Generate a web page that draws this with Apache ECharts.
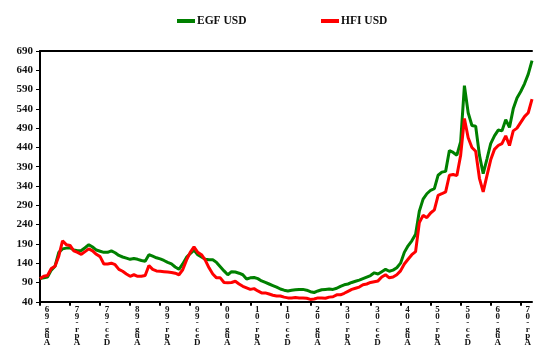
<!DOCTYPE html>
<html>
<head>
<meta charset="utf-8">
<script src="https://cdn.jsdelivr.net/npm/echarts@6/dist/echarts.min.js"></script>
<style>
  html, body { margin: 0; padding: 0; background: #fff; }
  #chart { width: 534px; height: 347px; }
</style>
</head>
<body>
<div id="chart"></div>
<script>
// Monthly categories, Aug-96 through Jul-07
const monthNames = ['Jan','Feb','Mar','Apr','May','Jun','Jul','Aug','Sep','Oct','Nov','Dec'];
const months = [];
for (let k = 0; k < 132; k++) {
  const m = (7 + k) % 12;
  const y = 1996 + Math.floor((7 + k) / 12);
  months.push(monthNames[m] + '-' + String(y % 100).padStart(2, '0'));
}

const egfUsd = [
  100,102,104,122,132,168,177,179,180,174,172,173,180,188,182,174,171,168,168,172,
  167,160,156,153,150,152,150,147,145,162,158,154,151,147,142,138,130,124,138,155,
  165,174,162,156,150,149,149,142,131,120,110,118,117,114,110,99,102,103,100,94,
  90,86,82,78,73,70,68,70,71,72,72,70,66,64,68,71,72,73,72,75,
  80,84,86,90,93,96,100,104,108,115,112,118,124,119,122,128,140,168,185,198,
  215,275,306,320,329,333,368,376,378,432,427,420,455,600,530,497,495,420,372,410,
  450,470,485,483,512,492,540,568,585,605,630,665
];

const hfiUsd = [
  100,106,108,126,132,158,198,188,186,172,168,163,170,177,172,163,157,138,138,140,
  136,124,119,112,106,110,106,106,108,134,124,120,119,118,117,116,114,110,123,148,
  168,182,168,162,148,128,112,102,102,90,89,90,93,86,80,76,72,74,68,63,
  63,60,57,55,55,52,50,50,51,50,50,49,46,47,50,50,49,52,53,58,
  58,62,67,72,75,78,84,86,90,92,94,104,110,102,104,110,120,138,150,162,
  170,245,264,258,270,278,316,320,325,368,370,367,420,515,465,440,430,360,325,367,
  408,435,445,450,470,445,483,490,505,520,530,565
];

const yTicks = { min: 40, max: 690, step: 50 };

const serif = '"Liberation Serif", "Times New Roman", serif';

const chart = echarts.init(document.getElementById('chart'), null, { renderer: 'canvas' });

const legendText = { fontFamily: serif, fontWeight: 'bold', fontSize: 11.5, color: '#111', padding: [0, 0, 0, -3] };

chart.setOption({
  animation: false,
  backgroundColor: '#ffffff',
  legend: [
    { data: ['EGF USD'], left: 172, top: 10, icon: 'rect', itemWidth: 18, itemHeight: 4, textStyle: legendText },
    { data: ['HFI USD'], left: 316, top: 10, icon: 'rect', itemWidth: 18, itemHeight: 4, textStyle: legendText }
  ],
  grid: { left: 40, right: 0, top: 51, bottom: 43, containLabel: false },
  xAxis: [
    {
      type: 'category',
      data: months,
      boundaryGap: false,
      axisLine: { lineStyle: { color: '#000', width: 2 } },
      axisTick: { show: true, interval: 7, length: 4, lineStyle: { color: '#000', width: 2 } },
      axisLabel: {
        interval: 7,
        margin: 5,
        fontFamily: serif,
        fontWeight: 'bold',
        fontSize: 9,
        lineHeight: 6.5,
        color: '#111',
        padding: [0, 0, 0, 14],
        formatter: v => v.split('').reverse().join('\n')
      },
      splitLine: { show: false }
    },
    {
      type: 'category',
      data: months,
      boundaryGap: false,
      position: 'top',
      axisLine: { lineStyle: { color: '#000', width: 2 } },
      axisTick: { show: false },
      axisLabel: { show: false },
      splitLine: { show: false }
    }
  ],
  yAxis: {
    type: 'value',
    min: yTicks.min,
    max: yTicks.max,
    interval: yTicks.step,
    axisLine: { show: true, lineStyle: { color: '#000', width: 2 } },
    axisTick: { show: true, length: 4, lineStyle: { color: '#000', width: 1 } },
    axisLabel: { margin: 7, fontFamily: serif, fontWeight: 'bold', fontSize: 11, color: '#111' },
    splitLine: { show: false }
  },
  series: [
    {
      name: 'EGF USD',
      type: 'line',
      data: egfUsd,
      showSymbol: false,
      color: '#008000',
      lineStyle: { width: 3, color: '#008000' }
    },
    {
      name: 'HFI USD',
      type: 'line',
      data: hfiUsd,
      showSymbol: false,
      color: '#ff0000',
      lineStyle: { width: 3, color: '#ff0000' }
    }
  ]
});
</script>
</body>
</html>
